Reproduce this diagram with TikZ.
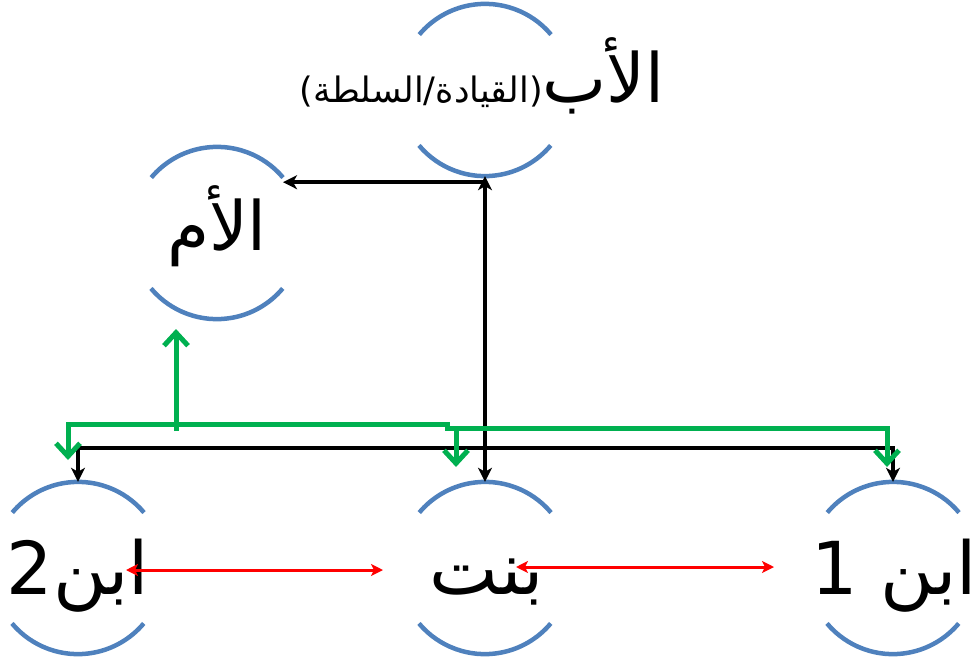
\documentclass[tikz,border=0pt]{standalone}
\usepackage{fontspec}
\usetikzlibrary{arrows.meta,calc}
\newfontfamily\arabicfont[Script=Arabic]{DejaVu Sans}
\TeXXeTstate=1
\definecolor{ringblue}{RGB}{79,129,189}
\definecolor{linkgreen}{RGB}{0,176,80}
\tikzset{
  blacktip/.tip={Stealth[length=14pt,width=14pt,inset=4pt]},
  greentip/.tip={Straight Barb[length=13pt,width=24pt]},
  redtip/.tip={Stealth[length=12pt,width=12pt,inset=3pt]}
}

\begin{document}
\begin{tikzpicture}[x=1pt,y=-1pt,
  ring/.style={circle,minimum size=172pt,inner sep=0pt},
  parent label/.style={font=\arabicfont\fontsize{68}{80}\selectfont,inner sep=0pt,anchor=base},
  kid label/.style={font=\arabicfont\fontsize{73}{86}\selectfont,inner sep=0pt,anchor=base},
  authority/.style={black,line width=4pt},
  care/.style={linkgreen,line width=5pt},
  peers/.style={red,line width=3pt}]
\useasboundingbox (0,0) rectangle (976,661);

% family members
\node[ring] (father) at (485,90) {};
\node[ring] (mother) at (217,233) {};
\node[ring] (son2) at (78,568) {};
\node[ring] (daughter) at (485,568) {};
\node[ring] (son1) at (893,568) {};
\foreach \p in {father,mother,son2,daughter,son1}{
  \draw[ringblue,line width=4.5pt] (\p.40) arc[start angle=40,end angle=140,radius=86pt];
  \draw[ringblue,line width=4.5pt] (\p.220) arc[start angle=220,end angle=320,radius=86pt];
}

\node[parent label] (fathertext) at (482,102)
  {{\fontsize{35}{42}\selectfont)\beginR القيادة/السلطة\endR(}\beginR الأب\endR};
\node[parent label] (mothertext) at (217,250) {\beginR الأم\endR};
\node[kid label] (son2text) at (78,594) {\beginR ابن2\endR};
\node[kid label] (daughtertext) at (487,594) {\beginR بنت\endR};
\node[kid label] (son1text) at (894,594) {\beginR ابن 1\endR};

% black links
\coordinate (fm) at ($(father.south)+(0,6)$);
\draw[authority,blacktip-blacktip] (daughter.north) -- (father.south);
\draw[authority,-blacktip] (fm) -- (fm -| mother.40);
\draw[authority,blacktip-blacktip] (son2.north) -- ++(0,-34) -| (son1.north);

% green links
\coordinate (gson2) at (68,460);
\coordinate (gbend) at (447,424);
\coordinate (gson1) at (887,467);
\coordinate (gdaughter) at (456,467);
\coordinate (groot) at (176,431);
\coordinate (gmother) at (176,329);
\draw[care,greentip-greentip] (gson2) |- (gbend) -- ++(0,4) -| (gson1);
\draw[care,-greentip] (gdaughter |- gbend) ++(0,4) -- (gdaughter);
\draw[care,-greentip] (groot) -- (gmother);

% red links
\draw[peers,redtip-redtip] ($(son2)+(48,2)$) -- ($(daughter)+(-102,2)$);
\draw[peers,redtip-redtip] ($(daughter)+(31,-1)$) -- ($(son1)+(-119,-1)$);
\end{tikzpicture}
\end{document}
